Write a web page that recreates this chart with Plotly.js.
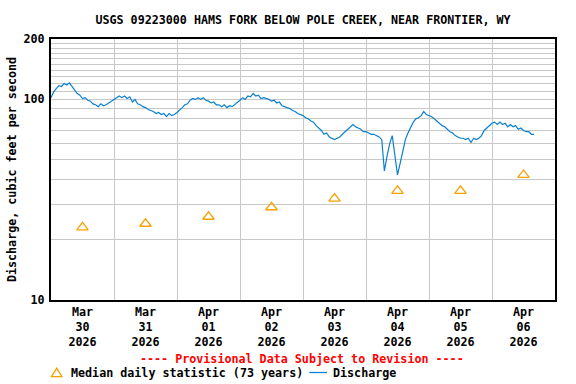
<!DOCTYPE html>
<html>
<head>
<meta charset="utf-8">
<script src="https://cdn.plot.ly/plotly-3.0.1.min.js"></script>
<style>html,body{margin:0;padding:0;background:#fff;}#chart{width:576px;height:384px;}</style>
</head>
<body>
<div id="chart"></div>
<script>
// Hourly discharge (cfs) starting 2026-03-30 00:00
const dischargeStart = '2026-03-30T00:00:00';
const dischargeDay1 = [102,109,113,117,116,120,118,121,116,112,107,105,101,102,99,98,95,94,92,95,93,94,96,98];
const dischargeDay2 = [100,102,104,102,104,101,103,97,100,95,94,92,91,89,88,87,85,86,84,85,82,85,83,84];
const dischargeDay3 = [86,89,91,94,95,99,101,100,102,100,102,99,98,96,97,94,94,92,94,91,93,92,94,96];
const dischargeDay4 = [99,102,100,104,103,107,104,105,101,102,101,100,98,99,96,97,93,92,91,90,88,87,85,84];
const dischargeDay5 = [83,81,80,78,77,74,72,70,67,68,65,64,63,64,65,67,69,71,73,75,73,72,71,69];
const dischargeDay6 = [69,68,67,67,66,65,63,44,52,60,66,52,42,48,55,63,68,73,77,80,81,83,87,84];
const dischargeDay7 = [83,82,80,78,76,74,73,71,69,68,66,65,64,64,63,64,61,64,63,64,66,70,72,74];
const dischargeDay8 = [76,77,75,77,75,76,73,75,73,74,71,72,70,69,69,67,67];

// Median daily statistic (73 years), at noon of each day
const medianDates = ['2026-03-30 12:00','2026-03-31 12:00','2026-04-01 12:00','2026-04-02 12:00',
                     '2026-04-03 12:00','2026-04-04 12:00','2026-04-05 12:00','2026-04-06 12:00'];
const medianValues = [23,24,26,29,32,35,35,42];

// Tick labels
const xTickVals = medianDates;
const xTickText = ['Mar<br>30<br>2026','Mar<br>31<br>2026','Apr<br>01<br>2026','Apr<br>02<br>2026',
                   'Apr<br>03<br>2026','Apr<br>04<br>2026','Apr<br>05<br>2026','Apr<br>06<br>2026'];
const yTickVals = [10,20,30,40,50,60,70,80,90,100,110,120,130,140,150,160,170,180,190,200];
const yTickText = ['10','','','','','','','','','100','','','','','','','','','','200'];

const medianName = 'Median daily statistic (73 years)';
const dischargeName = 'Discharge';

const dischargeValues = [].concat(dischargeDay1, dischargeDay2, dischargeDay3, dischargeDay4,
                                  dischargeDay5, dischargeDay6, dischargeDay7, dischargeDay8);
const t0 = new Date(dischargeStart + 'Z').getTime();
const dischargeTimes = dischargeValues.map((v, i) => {
  const d = new Date(t0 + i * 3600000);
  return d.toISOString().slice(0, 19).replace('T', ' ');
});

const FONT = '"DejaVu Sans Mono", "Liberation Mono", monospace';
const fnt = {family: FONT, size: 11.7, color: '#000', weight: 'bold'};
const ORANGE = '#f7a100';
const BLUE = '#0a80d0';

// plot-area geometry (pixels) for placing legend items below the plot
const M = {l: 51, r: 21, t: 39, b: 84};
const PW = 576 - M.l - M.r, PH = 384 - M.t - M.b;
const px = v => (v - M.l) / PW;
const py = v => (384 - M.b - v) / PH;

const traces = [
  {
    x: medianDates, y: medianValues, type: 'scatter', mode: 'markers',
    name: medianName, showlegend: false,
    marker: {symbol: 'triangle-up-open', size: 10, color: ORANGE, line: {width: 1.3, color: ORANGE}},
    cliponaxis: false
  },
  {
    x: dischargeTimes, y: dischargeValues, type: 'scatter', mode: 'lines',
    name: dischargeName, showlegend: false,
    line: {color: BLUE, width: 1.2}
  }
];

const legendY = 372.5;
const layout = {
  width: 576, height: 384,
  margin: M,
  paper_bgcolor: '#fff', plot_bgcolor: '#fff',
  font: fnt,
  showlegend: false,
  title: {
    text: 'USGS 09223000 HAMS FORK BELOW POLE CREEK, NEAR FRONTIER, WY',
    font: fnt, x: 0.5, xref: 'paper', y: 1 - 19.5/384, yref: 'container', yanchor: 'middle'
  },
  xaxis: {
    type: 'date',
    range: ['2026-03-30 00:00', '2026-04-07 00:00'],
    tickmode: 'array', tickvals: xTickVals, ticktext: xTickText,
    showgrid: false, ticks: '',
    showline: true, mirror: true, linecolor: '#000', linewidth: 2,
    tickfont: fnt, automargin: false,
    minor: {tick0: '2026-03-30 00:00', dtick: 86400000, showgrid: true, gridcolor: '#c8c8c8', gridwidth: 1, ticks: ''},
    zeroline: false, fixedrange: true
  },
  yaxis: {
    type: 'log',
    range: [1, Math.log10(200)],
    tickmode: 'array', tickvals: yTickVals, ticktext: yTickText,
    showgrid: true, gridcolor: '#c8c8c8', gridwidth: 1,
    ticks: '', showline: true, mirror: true, linecolor: '#000', linewidth: 2,
    tickfont: fnt, ticklabelstandoff: 2, automargin: false,
    title: {text: 'Discharge, cubic feet per second', font: fnt, standoff: 4},
    zeroline: false, fixedrange: true
  },
  shapes: [
    {type: 'path', xref: 'paper', yref: 'paper',
     path: 'M' + px(51.4) + ',' + py(376.7) + ' L' + px(62.0) + ',' + py(376.7) + ' L' + px(56.7) + ',' + py(368.3) + ' Z',
     line: {color: ORANGE, width: 1.3}, fillcolor: 'rgba(0,0,0,0)'},
    {type: 'line', xref: 'paper', yref: 'paper',
     x0: px(309.3), x1: px(327), y0: py(legendY), y1: py(legendY),
     line: {color: BLUE, width: 1.3}}
  ],
  annotations: [
    {text: '---- Provisional Data Subject to Revision ----',
     xref: 'paper', yref: 'paper', x: px(301.5), y: py(359), yanchor: 'middle', xanchor: 'center',
     showarrow: false, font: {family: FONT, size: 11.7, color: '#ff0000', weight: 'bold'}},
    {text: medianName, xref: 'paper', yref: 'paper', x: px(69), y: py(legendY),
     xanchor: 'left', yanchor: 'middle', showarrow: false, font: fnt},
    {text: dischargeName, xref: 'paper', yref: 'paper', x: px(331), y: py(legendY),
     xanchor: 'left', yanchor: 'middle', showarrow: false, font: fnt}
  ]
};

Plotly.newPlot('chart', traces, layout, {staticPlot: true, displayModeBar: false});
</script>
</body>
</html>
